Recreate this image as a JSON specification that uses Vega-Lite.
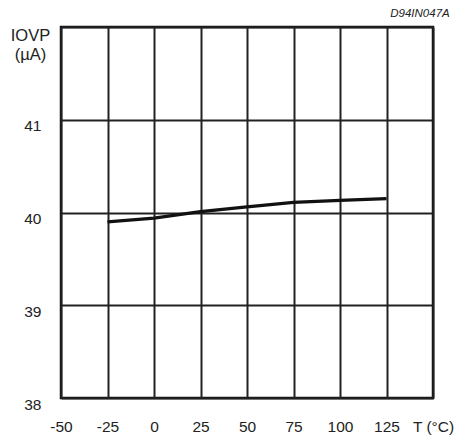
{
  "$schema": "https://vega.github.io/schema/vega-lite/v6.json",
  "autosize": "none",
  "width": 372,
  "height": 371,
  "padding": {"left": 61, "top": 27, "right": 28, "bottom": 46},
  "background": "white",
  "title": {
    "text": "D94IN047A",
    "anchor": "end",
    "font": "Liberation Sans",
    "fontSize": 11.5,
    "fontStyle": "italic",
    "fontWeight": "normal",
    "color": "#222",
    "offset": 7,
    "dx": -4
  },
  "config": {
    "view": {"stroke": "#111", "strokeWidth": 2.5},
    "axis": {
      "labelFont": "Liberation Sans",
      "labelFontSize": 15.5,
      "labelColor": "#222",
      "titleFont": "Liberation Sans",
      "titleFontSize": 16.5,
      "titleFontWeight": "normal",
      "titleColor": "#222",
      "domain": false,
      "ticks": false,
      "gridColor": "#222",
      "gridWidth": 2,
      "gridOpacity": 1
    }
  },
  "data": {
    "values": [
      {"T": -25, "I": 39.9},
      {"T": 0, "I": 39.94},
      {"T": 25, "I": 40.01},
      {"T": 50, "I": 40.06},
      {"T": 75, "I": 40.11},
      {"T": 100, "I": 40.13},
      {"T": 125, "I": 40.15}
    ]
  },
  "mark": {"type": "line", "color": "#111", "strokeWidth": 3.3},
  "encoding": {
    "x": {
      "field": "T",
      "type": "quantitative",
      "scale": {"domain": [-50, 150], "nice": false, "zero": false},
      "axis": {
        "values": [-50, -25, 0, 25, 50, 75, 100, 125, 150],
        "title": null,
        "labelPadding": 21,
        "labelFlush": false,
        "labelOverlap": false,
        "labelExpr": "datum.value == 150 ? 'T (°C)' : replace(datum.label, '−', '-')"
      }
    },
    "y": {
      "field": "I",
      "type": "quantitative",
      "scale": {"domain": [38, 42], "nice": false, "zero": false},
      "axis": {
        "values": [38, 39, 40, 41, 42],
        "title": ["IOVP", "(µA)"],
        "titleAngle": 0,
        "titleAlign": "center",
        "titleBaseline": "top",
        "titleX": -31,
        "titleY": 0,
        "titleLineHeight": 19,
        "labelPadding": 20,
        "labelOffset": 6,
        "labelFlush": false,
        "labelOverlap": false,
        "labelExpr": "datum.value == 42 ? '' : datum.label"
      }
    }
  }
}
